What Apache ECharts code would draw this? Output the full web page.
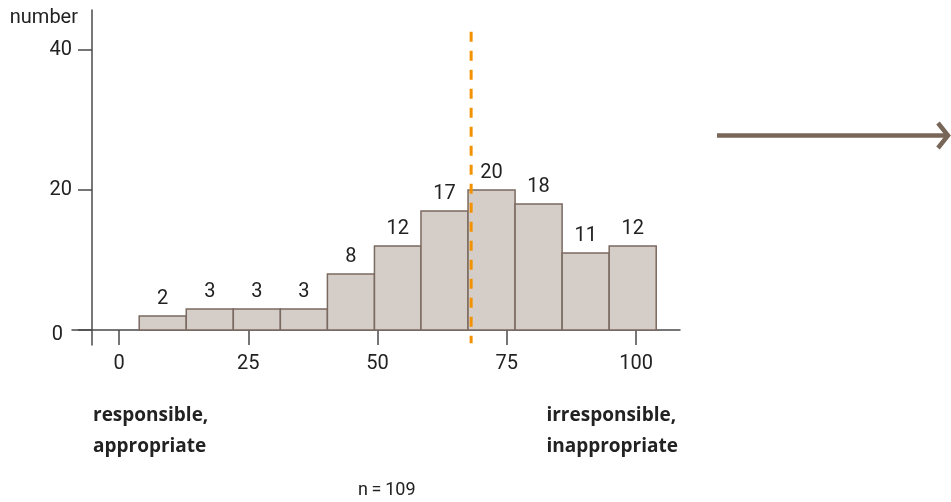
<!DOCTYPE html>
<html>
<head>
<meta charset="utf-8">
<script src="https://cdn.jsdelivr.net/npm/echarts@6/dist/echarts.min.js"></script>
<style>
  html, body { margin: 0; padding: 0; background: #fff; }
  #chart { width: 951px; height: 502px; }
</style>
</head>
<body>
<div id="chart"></div>
<script>
// histogram bins (left/right edges on the 0-100 scale) and counts
const binEdges = [3.9, 13.0, 22.1, 31.2, 40.3, 49.4, 58.4, 67.5, 76.6, 85.7, 94.8, 103.9]
const counts = [2, 3, 3, 3, 8, 12, 17, 20, 18, 11, 12]
const xTicks = [0, 25, 50, 75, 100]
const yTicks = [0, 20, 40]
const cutoff = 68.1 // orange dashed line
const cutoffRange = [42.6, -1.9]

const font = 'Roboto, "Noto Sans", sans-serif'
const boldFont = '"Open Sans", Roboto, sans-serif'
const axisColor = '#4a4a4a'

const bars = counts.map((c, i) => [binEdges[i], binEdges[i + 1], c])

const chart = echarts.init(document.getElementById('chart'))

chart.setOption({
  animation: false,
  textStyle: { fontFamily: font },
  grid: {
    left: 72,
    right: 271,
    top: 10,
    bottom: 157,
    containLabel: false,
    outerBoundsMode: 'none'
  },
  xAxis: {
    type: 'value',
    min: -9.1,
    max: 108.5,
    splitLine: { show: false },
    axisLine: { onZero: true, lineStyle: { color: axisColor, width: 1.5 } },
    axisTick: { customValues: xTicks, length: 15, lineStyle: { color: axisColor, width: 1.5 } },
    axisLabel: { customValues: xTicks, margin: 9, color: '#222', fontSize: 20, fontFamily: font }
  },
  yAxis: {
    type: 'value',
    min: -2.14,
    max: 45.7,
    offset: -20,
    splitLine: { show: false },
    axisLine: { show: true, onZero: false, lineStyle: { color: axisColor, width: 1.5 } },
    axisTick: { customValues: yTicks, length: 14, lineStyle: { color: axisColor, width: 1.5 } },
    axisLabel: {
      customValues: yTicks,
      margin: 20,
      color: '#222',
      fontSize: 20,
      fontFamily: font,
      formatter: function (v) {
        return v === 0 ? '{z|0}' : String(v)
      },
      rich: {
        z: { fontSize: 20, fontFamily: font, color: '#222', padding: [10, 9, 0, 0] }
      }
    }
  },
  series: [
    {
      type: 'custom',
      data: bars,
      encode: { x: [0, 1], y: 2 },
      renderItem: function (params, api) {
        const p0 = api.coord([api.value(0), api.value(2)])
        const p1 = api.coord([api.value(1), 0])
        return {
          type: 'rect',
          shape: { x: p0[0], y: p0[1], width: p1[0] - p0[0], height: p1[1] - p0[1] },
          style: { fill: '#d5cdc8', stroke: '#7a6a60', lineWidth: 1.5 },
          textContent: {
            style: { text: String(api.value(2)), fill: '#222', fontSize: 20, fontFamily: font }
          },
          textConfig: { position: 'top', distance: 6 }
        }
      }
    },
    {
      type: 'line',
      data: [[cutoff, cutoffRange[0]], [cutoff, cutoffRange[1]]],
      symbol: 'none',
      z: 5,
      lineStyle: { color: '#f39200', width: 3, type: [10, 9] }
    }
  ],
  graphic: [
    {
      type: 'text',
      right: 951 - 78,
      top: 8,
      style: { text: 'number', fill: '#222', fontSize: 20, fontFamily: font }
    },
    {
      type: 'text',
      left: 93,
      top: 400,
      style: {
        text: 'responsible,\nappropriate',
        fill: '#222',
        fontSize: 19,
        fontWeight: 'bold',
        lineHeight: 31,
        fontFamily: boldFont
      }
    },
    {
      type: 'text',
      right: 951 - 678,
      top: 400,
      style: {
        text: 'irresponsible,\ninappropriate',
        fill: '#222',
        fontSize: 19,
        fontWeight: 'bold',
        lineHeight: 31,
        align: 'right',
        fontFamily: boldFont
      }
    },
    {
      type: 'text',
      left: 358,
      top: 481,
      style: { text: 'n\u2009=\u2009109', fill: '#222', fontSize: 18, fontFamily: font }
    },
    {
      type: 'line',
      shape: { x1: 717, y1: 135.5, x2: 947, y2: 135.5 },
      style: { stroke: '#786658', lineWidth: 4.5 }
    },
    {
      type: 'polyline',
      shape: { points: [[938, 123], [948, 135.5], [938, 148]] },
      style: { stroke: '#786658', lineWidth: 4.5, fill: null }
    }
  ]
})
</script>
</body>
</html>
